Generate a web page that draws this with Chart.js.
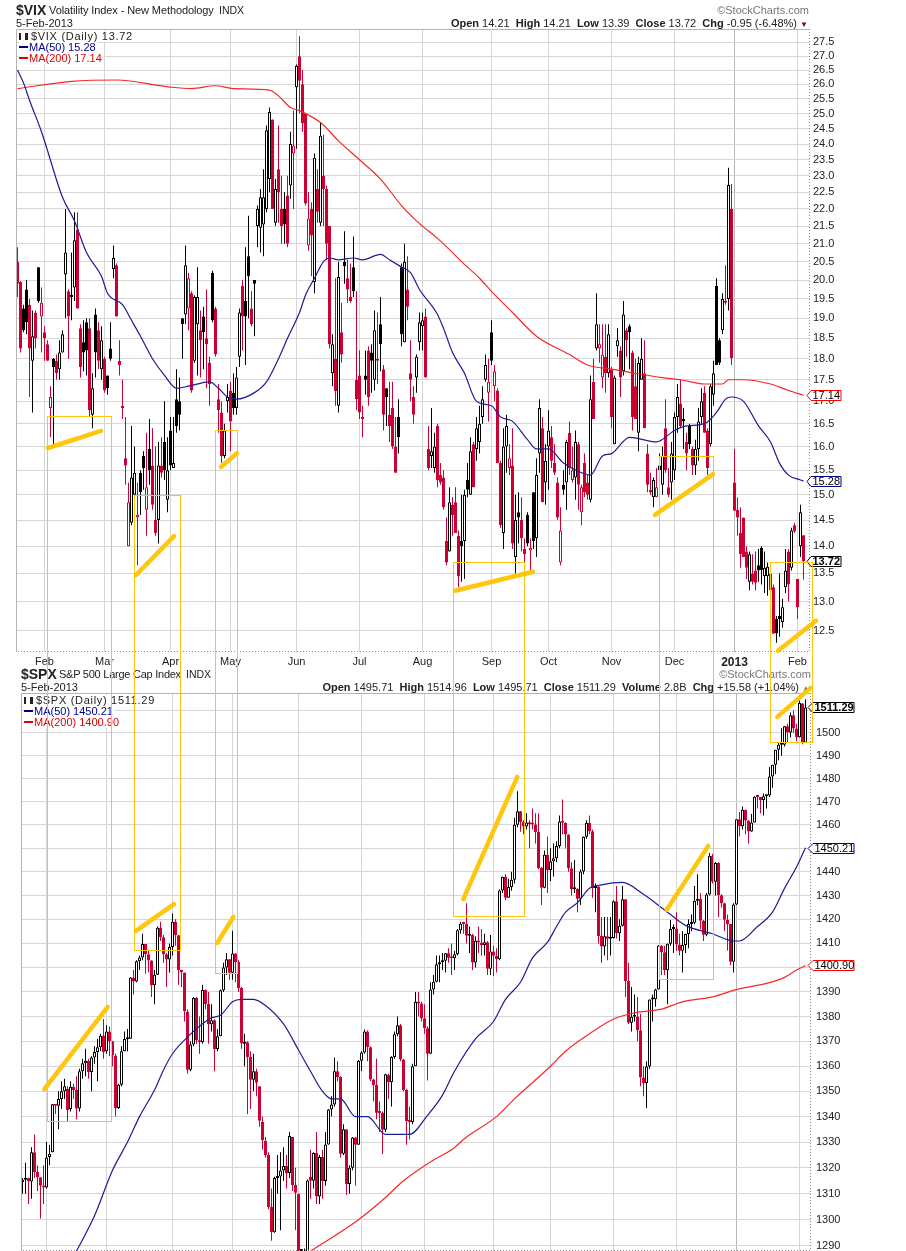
<!DOCTYPE html>
<html>
<head>
<meta charset="utf-8">
<title>$VIX and $SPX</title>
<script src="https://cdn.jsdelivr.net/npm/chart.js"></script>
<style>
  html, body { margin: 0; padding: 0; background: #fff; width: 906px; height: 1251px; overflow: hidden; }
  body { position: relative; font-family: "Liberation Sans", Arial, sans-serif; font-size: 11px; color: #222; }
  canvas { position: absolute; left: 0; display: block; }
  #vixChart { top: 0; }
  #spxChart { top: 670px; }
  #overlay { top: 0; z-index: 5; pointer-events: none; }
  .t { position: absolute; white-space: nowrap; line-height: 13px; z-index: 2; }
  .sym { font-weight: bold; font-size: 14px; line-height: 15px; color: #222; }
  .logo { color: #777; font-size: 11px; }
  .leg { background: #fff; line-height: 11px; height: 11px; padding-right: 2px; }
  .dn { color: #80002a; font-size: 8px; }
  .up { color: #2a8a2a; font-size: 8px; }
  .dash { display: inline-block; width: 9px; height: 2px; vertical-align: 3px; margin-right: 1px; }
  .glyph { display: inline-block; width: 9px; height: 7px; margin-right: 3px; vertical-align: 0; border-left: 2px solid #222; border-right: 3px solid #222; box-sizing: border-box; }
</style>
</head>
<body>
<canvas id="vixChart" width="906" height="670"></canvas>
<canvas id="spxChart" width="906" height="581"></canvas>

<div class="t sym" style="left:16px;top:3px">$VIX</div>
<div class="t" style="left:49px;top:4px;letter-spacing:-.1px">Volatility Index - New Methodology</div>
<div class="t" style="left:219px;top:4px;font-size:10.5px">INDX</div>
<div class="t" style="left:16px;top:17px">5-Feb-2013</div>
<div class="t logo" style="right:97px;top:4px">©StockCharts.com</div>
<div class="t" style="right:98px;top:17px"><b>Open</b> 14.21 &nbsp;<b>High</b> 14.21 &nbsp;<b>Low</b> 13.39 &nbsp;<b>Close</b> 13.72 &nbsp;<b>Chg</b> -0.95 (-6.48%) <span class="dn">▼</span></div>
<div class="t leg" style="left:19px;top:31px;letter-spacing:.7px"><span class="glyph"></span>$VIX (Daily) 13.72</div>
<div class="t leg" style="left:19px;top:42px;color:#00008b"><span class="dash" style="background:#00008b"></span>MA(50) 15.28</div>
<div class="t leg" style="left:19px;top:53px;color:#e00000"><span class="dash" style="background:#e00000"></span>MA(200) 17.14</div>

<div class="t sym" style="left:21px;top:667px">$SPX</div>
<div class="t" style="left:59px;top:668px;letter-spacing:-.25px">S&amp;P 500 Large Cap Index</div>
<div class="t" style="left:186px;top:668px;font-size:10.5px">INDX</div>
<div class="t" style="left:21px;top:681px">5-Feb-2013</div>
<div class="t logo" style="right:95px;top:668px">©StockCharts.com</div>
<div class="t" style="right:96px;top:681px"><b>Open</b> 1495.71 &nbsp;<b>High</b> 1514.96 &nbsp;<b>Low</b> 1495.71 &nbsp;<b>Close</b> 1511.29 &nbsp;<b>Volume</b> 2.8B &nbsp;<b>Chg</b> +15.58 (+1.04%) <span class="up">▲</span></div>
<div class="t leg" style="left:24px;top:695px;letter-spacing:.7px"><span class="glyph"></span>$SPX (Daily) 1511.29</div>
<div class="t leg" style="left:24px;top:706px;color:#00008b"><span class="dash" style="background:#00008b"></span>MA(50) 1450.21</div>
<div class="t leg" style="left:24px;top:717px;color:#e00000"><span class="dash" style="background:#e00000"></span>MA(200) 1400.90</div>

<canvas id="overlay" width="906" height="1251"></canvas>

<script>
// first trading day of each month, as index into the daily arrays
const monthIdx = [9, 29, 51, 71, 93, 114, 135, 158, 177, 198, 219, 239, 260];
const monthLabels = ['Feb', 'Mar', 'Apr', 'May', 'Jun', 'Jul', 'Aug', 'Sep', 'Oct', 'Nov', 'Dec', '2013', 'Feb'];

const vixTicks = [12.5, 13, 13.5, 14, 14.5, 15, 15.5, 16, 16.5, 17, 17.5, 18, 18.5, 19, 19.5, 20, 20.5, 21, 21.5, 22, 22.5, 23, 23.5, 24, 24.5, 25, 25.5, 26, 26.5, 27, 27.5];
const spxTicks = [1290, 1300, 1310, 1320, 1330, 1340, 1350, 1360, 1370, 1380, 1390, 1400, 1410, 1420, 1430, 1440, 1450, 1460, 1470, 1480, 1490, 1500, 1510];

const vixOpen = [
  20.5, 19.95, 19.25, 19.75, 19.35, 17.95, 19.15, 20.35, 19.05, 18.65,
  18.35, 16.85, 18.0, 17.95, 17.75, 18.15, 20.15, 19.7, 19.55, 19.8,
  21.4, 18.75, 18.4, 18.9, 18.75, 16.7, 19.1, 18.7, 17.75, 18.0,
  17.6, 18.25, 20.3, 20.4, 17.95, 16.9, 15.75, 14.0, 14.45, 15.0,
  14.55, 15.45, 15.8, 14.7, 15.95, 15.6, 14.5, 14.5, 15.6, 16.1,
  14.9, 16.35, 15.55, 17.05, 17.0, 19.0, 19.1, 19.25, 19.65, 17.95,
  18.85, 18.7, 19.05, 18.5, 17.9, 20.2, 19.25, 17.05, 16.75, 15.8,
  17.0, 17.25, 17.2, 16.85, 18.05, 19.85, 19.45, 20.65, 19.25, 20.0,
  21.5, 21.45, 21.55, 22.0, 22.9, 24.8, 21.6, 23.2, 22.0, 22.0,
  22.4, 22.7, 23.7, 25.9, 27.0, 26.0, 25.0, 20.95, 22.0, 19.95,
  22.6, 21.6, 23.0, 22.6, 21.5, 17.65, 18.0, 16.9, 18.65, 20.5,
  20.05, 19.55, 20.35, 17.5, 17.6, 16.65, 17.6, 18.2, 18.15, 17.5,
  17.97, 18.85, 17.75, 17.3, 16.7, 16.85, 16.0, 16.65, 20.35, 18.4,
  19.75, 17.65, 17.1, 17.55, 18.4, 18.8, 19.05, 15.95, 15.8, 15.55,
  16.45, 15.4, 15.35, 14.1, 13.9, 14.8, 14.85, 14.2, 14.1, 14.1,
  15.3, 15.0, 16.05, 15.95, 16.1, 16.65, 17.5, 17.2, 18.65, 17.35,
  17.25, 15.65, 14.25, 16.0, 15.55, 15.6, 13.8, 14.65, 14.5, 13.95,
  14.6, 13.92, 15.05, 14.15, 15.85, 16.4, 15.25, 16.0, 16.2, 15.65,
  15.25, 13.7, 15.2, 15.25, 16.3, 15.3, 15.35, 16.05, 14.65, 15.65,
  15.25, 14.9, 17.45, 18.25, 18.25, 17.55, 18.05, 17.65, 17.75, 16.05,
  18.3, 18.2, 17.7, 18.7, 18.8, 18.15, 17.35, 16.3, 17.5, 17.65,
  15.85, 15.1, 14.95, 14.95, 15.6, 15.2, 16.4, 15.15, 15.25, 15.5,
  16.65, 16.95, 16.6, 16.1, 16.45, 15.95, 15.6, 15.95, 16.65, 17.2,
  16.35, 16.05, 17.15, 19.85, 18.45, 18.7, 19.4, 19.5, 22.0, 15.25,
  14.7, 14.25, 14.55, 13.9, 13.35, 13.5, 13.55, 13.65, 13.97, 13.45,
  13.45, 13.5, 13.25, 12.7, 12.75, 12.65, 13.25, 13.9, 13.6, 14.4,
  13.4, 14.0, 14.21
];
const vixHigh = [
  20.9, 19.97, 19.35, 20.0, 19.5, 19.2, 19.2, 20.35, 19.8, 18.8,
  18.45, 17.35, 18.02, 18.1, 18.45, 18.7, 22.0, 19.75, 20.75, 21.9,
  21.9, 18.85, 18.95, 19.0, 19.0, 17.65, 19.25, 18.9, 18.8, 18.05,
  17.6, 18.9, 20.95, 20.45, 18.45, 17.5, 16.65, 15.25, 16.45, 16.0,
  15.25, 15.5, 15.9, 16.3, 16.6, 16.4, 16.0, 16.1, 16.2, 17.0,
  16.2, 16.65, 16.65, 17.75, 17.55, 19.0, 20.95, 20.2, 19.7, 19.6,
  20.35, 19.2, 19.3, 19.75, 18.05, 20.25, 19.3, 17.4, 17.0, 16.5,
  17.4, 17.45, 17.65, 17.8, 19.25, 20.0, 20.9, 21.8, 19.7, 20.0,
  22.1, 22.6, 23.2, 24.6, 25.2, 24.8, 22.9, 24.6, 23.0, 22.5,
  23.0, 24.4, 25.1, 26.7, 27.73, 26.5, 25.0, 22.5, 22.2, 23.7,
  23.2, 24.7, 24.3, 22.7, 21.5, 18.6, 20.05, 20.5, 19.4, 21.35,
  20.55, 20.45, 21.2, 19.7, 18.2, 16.9, 18.2, 18.3, 18.35, 19.2,
  19.15, 19.55, 17.85, 17.3, 17.45, 17.45, 16.65, 17.05, 20.45, 21.0,
  20.65, 18.45, 17.35, 18.1, 19.15, 19.15, 19.25, 16.45, 16.85, 16.3,
  16.5, 15.65, 15.5, 14.55, 15.15, 14.95, 15.15, 14.3, 15.0, 15.1,
  15.65, 16.2, 16.1, 16.65, 16.9, 17.35, 18.1, 18.0, 18.95, 17.85,
  17.3, 15.7, 16.4, 16.7, 16.05, 16.4, 15.0, 15.05, 14.95, 14.15,
  14.65, 14.15, 15.05, 15.75, 17.05, 16.65, 16.05, 16.8, 16.45, 16.05,
  15.35, 14.75, 15.5, 16.15, 16.55, 16.0, 16.35, 16.1, 15.2, 15.85,
  15.4, 17.6, 18.0, 19.65, 18.85, 18.85, 18.85, 18.85, 17.8, 17.6,
  18.75, 18.3, 19.45, 18.75, 18.85, 18.2, 18.0, 18.05, 18.5, 18.45,
  16.05, 15.45, 15.35, 15.55, 15.85, 16.0, 17.05, 15.55, 16.1, 16.75,
  17.4, 17.5, 16.85, 16.3, 16.5, 16.0, 16.15, 16.85, 17.3, 17.35,
  16.4, 17.4, 17.95, 20.05, 18.5, 19.65, 20.4, 23.25, 22.75, 15.95,
  14.95, 14.75, 14.55, 14.0, 13.9, 13.85, 13.9, 13.95, 14.0, 13.9,
  13.7, 13.6, 13.3, 12.75, 13.5, 13.05, 13.95, 13.95, 14.35, 14.45,
  13.4, 14.8, 14.21
];
const vixLow = [
  19.55, 18.15, 18.65, 18.6, 17.1, 16.75, 18.25, 19.4, 18.15, 17.95,
  17.95, 16.2, 16.0, 17.5, 17.5, 18.15, 19.0, 18.0, 18.95, 19.45,
  19.25, 17.55, 17.7, 17.6, 16.65, 16.4, 17.55, 17.75, 17.5, 17.2,
  17.15, 17.95, 20.05, 19.05, 17.6, 16.6, 15.2, 14.0, 14.4, 14.85,
  13.65, 14.6, 15.1, 14.2, 15.2, 14.7, 14.2, 14.05, 15.35, 15.3,
  14.65, 15.5, 15.55, 16.3, 16.35, 18.0, 18.85, 18.7, 17.2, 17.9,
  17.6, 17.55, 17.75, 17.3, 16.9, 18.9, 18.05, 16.3, 15.65, 15.75,
  16.75, 15.9, 16.7, 16.7, 17.8, 18.2, 17.85, 19.0, 18.8, 18.55,
  20.9, 20.75, 20.65, 21.9, 22.5, 22.0, 21.5, 21.6, 21.0, 21.0,
  20.9, 22.3, 22.0, 23.85, 25.0, 24.4, 22.1, 20.8, 20.1, 19.65,
  21.6, 21.5, 21.5, 20.55, 18.25, 17.35, 16.9, 16.75, 17.9, 19.9,
  19.4, 19.4, 19.55, 16.8, 16.6, 16.2, 17.15, 16.9, 17.2, 17.25,
  17.4, 17.7, 16.35, 16.45, 16.1, 15.95, 15.45, 15.85, 18.3, 18.4,
  18.95, 17.0, 16.5, 17.2, 18.2, 18.2, 17.55, 15.5, 15.55, 15.45,
  15.15, 15.2, 14.7, 13.65, 13.9, 14.2, 14.25, 13.25, 13.35, 13.4,
  14.95, 15.0, 15.15, 15.7, 15.85, 16.5, 17.45, 16.55, 17.85, 17.0,
  15.65, 14.35, 13.95, 15.45, 15.4, 13.95, 13.5, 14.05, 13.9, 13.5,
  14.0, 13.55, 13.95, 13.8, 15.45, 14.85, 14.8, 15.1, 15.55, 15.4,
  14.5, 13.65, 15.0, 14.7, 15.4, 15.25, 14.9, 14.7, 14.4, 14.95,
  14.9, 14.85, 16.6, 18.2, 17.9, 17.3, 17.2, 17.55, 16.4, 16.05,
  18.05, 17.1, 17.6, 18.05, 17.75, 16.35, 16.6, 15.9, 17.5, 16.4,
  15.05, 15.0, 14.75, 14.95, 15.4, 15.0, 15.45, 14.95, 14.9, 15.3,
  16.3, 16.4, 15.95, 15.5, 15.95, 15.4, 15.4, 15.7, 16.5, 16.3,
  15.4, 16.0, 16.9, 17.85, 17.85, 18.6, 19.35, 19.2, 17.85, 14.68,
  14.2, 13.6, 13.8, 13.4, 13.2, 13.3, 13.2, 13.35, 13.3, 13.15,
  13.1, 12.85, 12.45, 12.3, 12.4, 12.55, 13.15, 13.0, 13.55, 14.25,
  12.7, 13.8, 13.39
];
const vixClose = [
  19.9, 18.25, 18.7, 18.9, 18.25, 18.55, 18.5, 19.45, 19.4, 18.5,
  17.95, 17.1, 17.8, 17.65, 18.15, 18.6, 20.75, 19.05, 19.6, 21.1,
  19.25, 17.8, 18.15, 18.2, 16.8, 17.3, 18.15, 17.95, 18.45, 17.25,
  17.3, 18.0, 20.6, 19.05, 17.85, 16.85, 15.6, 14.85, 15.35, 15.45,
  14.6, 15.05, 15.55, 15.15, 15.5, 14.8, 14.25, 15.6, 15.45, 15.5,
  15.5, 15.6, 15.65, 16.45, 16.7, 18.85, 20.4, 20.05, 17.25, 19.55,
  19.55, 18.45, 18.65, 18.35, 17.4, 18.95, 18.1, 16.8, 15.8, 16.35,
  17.1, 16.55, 16.85, 17.55, 19.15, 19.05, 19.05, 20.1, 18.85, 19.9,
  22.0, 22.35, 22.35, 24.45, 25.05, 22.0, 22.6, 22.5, 21.5, 21.55,
  21.0, 24.0, 23.95, 26.65, 26.12, 24.68, 22.16, 21.72, 21.23, 23.56,
  21.92, 24.27, 22.6, 21.0, 18.35, 18.35, 17.24, 20.08, 18.1, 20.38,
  19.75, 19.45, 19.7, 17.05, 16.75, 16.6, 17.5, 17.1, 17.95, 18.7,
  17.95, 18.35, 16.7, 17.1, 16.45, 16.0, 15.45, 16.2, 18.6, 20.5,
  19.3, 17.5, 16.7, 18.05, 18.9, 18.95, 17.55, 15.55, 15.9, 16.0,
  15.3, 15.25, 14.75, 13.7, 14.85, 14.6, 14.25, 13.45, 14.0, 15.0,
  15.1, 15.9, 15.15, 16.4, 16.5, 17.05, 17.85, 17.45, 17.95, 17.7,
  15.65, 14.4, 16.0, 16.45, 15.75, 14.05, 14.5, 14.55, 14.15, 13.85,
  14.05, 13.97, 14.1, 15.4, 16.85, 14.85, 15.7, 16.35, 15.7, 15.45,
  14.55, 14.3, 15.1, 16.1, 15.55, 15.5, 16.1, 15.2, 15.15, 15.05,
  15.0, 17.05, 16.6, 18.85, 18.35, 18.1, 17.65, 18.6, 16.65, 17.55,
  18.45, 17.55, 19.1, 18.45, 18.65, 16.65, 16.6, 17.9, 18.0, 16.4,
  15.2, 15.05, 15.3, 15.15, 15.5, 15.8, 15.5, 15.0, 15.85, 16.65,
  17.1, 16.45, 16.55, 15.85, 16.05, 15.6, 15.95, 16.55, 17.0, 16.3,
  15.55, 17.35, 17.65, 17.85, 17.9, 19.5, 19.45, 22.72, 18.02, 14.68,
  14.55, 13.85, 13.8, 13.6, 13.85, 13.35, 13.33, 13.55, 13.56, 13.6,
  13.62, 13.2, 12.45, 12.46, 12.7, 12.9, 13.55, 13.3, 14.3, 14.28,
  12.9, 14.65, 13.72
];

const spxOpen = [
  1308, 1314.5, 1315.4, 1316, 1314.7, 1326, 1318.4, 1316.3, 1313, 1312.4,
  1324.2, 1326, 1344.9, 1344.3, 1347, 1350, 1351, 1343, 1351.8, 1350.5,
  1343.2, 1358, 1361.2, 1362.2, 1357.7, 1363.5, 1365.7, 1367.6, 1372.2, 1366,
  1374, 1370, 1364.3, 1343.4, 1352.6, 1366, 1370.8, 1371, 1395.9, 1394.3,
  1402.6, 1404.2, 1409.7, 1405.5, 1402.9, 1392.8, 1397.1, 1416.5, 1412.5, 1405.5,
  1403.3, 1408.5, 1419, 1413.4, 1399, 1398, 1382, 1358.6, 1368.7, 1387.6,
  1370.3, 1369.6, 1390.8, 1385.1, 1376.9, 1378.5, 1366.9, 1372, 1390.7, 1400,
  1403.4, 1397.9, 1405.8, 1402.3, 1391.6, 1369, 1369.6, 1363.7, 1354.6, 1358,
  1352, 1338, 1330.5, 1325, 1305, 1295.2, 1316, 1316.6, 1318.9, 1320.7,
  1318, 1332, 1313.3, 1310, 1278, 1278.2, 1285.5, 1316.5, 1315, 1325.7,
  1308.9, 1324.2, 1314.9, 1329.1, 1342.8, 1344.8, 1358, 1355.7, 1325.5, 1335,
  1313.7, 1320, 1331.85, 1329, 1362.2, 1365.5, 1374, 1367.6, 1354.7, 1352.5,
  1341.5, 1341.4, 1334.8, 1356.5, 1353.6, 1363.7, 1372.8, 1376.5, 1362.7, 1350.5,
  1338.3, 1337.9, 1360, 1386, 1385.3, 1379.3, 1375.3, 1365, 1391, 1394.2,
  1401.4, 1402.2, 1402.8, 1405.9, 1404.1, 1403.9, 1405.5, 1415.5, 1418.2, 1418.1,
  1413.2, 1413.5, 1402.1, 1411.1, 1410.4, 1409.3, 1410.5, 1399.5, 1406.6, 1404.9,
  1403.4, 1432.1, 1437.9, 1429.1, 1433.6, 1436.6, 1460, 1465.8, 1461.2, 1459.3,
  1461, 1460.3, 1460.2, 1456.9, 1441.6, 1433.3, 1447.2, 1440.7, 1444.5, 1445.75,
  1451, 1461.4, 1460.9, 1455.9, 1441.5, 1432.6, 1432.8, 1428.6, 1440.1, 1454.9,
  1460.9, 1457.3, 1433.2, 1433.8, 1413.1, 1408.75, 1413, 1411.9, 1412.2, 1427.6,
  1414.2, 1417.3, 1428.4, 1394.5, 1377.5, 1379.9, 1380, 1374.5, 1355.5, 1353.3,
  1359.9, 1386.9, 1387, 1391, 1409.15, 1406.3, 1398.9, 1409.9, 1415.95, 1416.2,
  1409.5, 1407, 1409.3, 1413.9, 1418.1, 1418.55, 1427.8, 1428.5, 1419.45, 1413.6,
  1430.4, 1446.8, 1435.8, 1443.7, 1430.15, 1426.7, 1419.8, 1418.1, 1402.4, 1426.2,
  1462.4, 1459.4, 1466.5, 1461.9, 1457.15, 1461, 1472.1, 1472, 1470.7, 1472.3,
  1472.6, 1480.9, 1486, 1492.6, 1494.8, 1494.8, 1502.96, 1500.2, 1507.8, 1501.96,
  1498.1, 1513, 1495.71
];
const spxHigh = [
  1315, 1316, 1322, 1316, 1328, 1333, 1321, 1316.3, 1321, 1330,
  1329, 1345, 1345, 1350, 1354, 1355, 1352, 1354, 1353, 1356,
  1359, 1363, 1367, 1363, 1364, 1368, 1371, 1373, 1379, 1376.5,
  1376, 1370, 1365, 1353, 1368, 1374, 1375, 1396, 1399, 1403,
  1405, 1414, 1409.7, 1407, 1403, 1399, 1417, 1419, 1413.5, 1406,
  1410, 1422.4, 1420, 1413.5, 1399, 1398, 1383, 1370, 1388, 1388,
  1380, 1393, 1391, 1390, 1385, 1379, 1375, 1391, 1402, 1406,
  1403.5, 1415.3, 1406, 1403, 1392, 1373, 1370, 1366, 1365, 1359,
  1352, 1340, 1332, 1326, 1312, 1316.5, 1325, 1326, 1328, 1325,
  1334, 1332, 1320, 1310, 1287, 1289, 1315.5, 1327, 1326, 1334,
  1325, 1327, 1334, 1343, 1348, 1363.5, 1362, 1356, 1337, 1335,
  1321, 1332, 1332, 1362.5, 1366, 1374.8, 1374.5, 1368, 1355, 1363,
  1346, 1342, 1357, 1357, 1364, 1374, 1380, 1377, 1363, 1351,
  1344, 1361, 1390, 1390, 1386, 1385, 1376, 1394, 1397, 1405,
  1405, 1406, 1406, 1408, 1410, 1407, 1416, 1419, 1419, 1426.7,
  1417, 1414, 1413, 1417, 1416, 1414, 1411, 1413.5, 1409, 1408,
  1432.5, 1438, 1439, 1437, 1440, 1463, 1474.5, 1466, 1462, 1465,
  1462, 1467, 1465, 1465, 1442, 1449, 1455, 1450, 1452, 1453,
  1464, 1470.9, 1461, 1456, 1444, 1445, 1433, 1441, 1455, 1462,
  1464, 1458, 1435, 1434, 1421, 1421, 1421, 1421, 1428, 1434,
  1420, 1434, 1428.4, 1402, 1392, 1389, 1388, 1381, 1360, 1362,
  1386.9, 1389, 1391.3, 1409.2, 1409.2, 1409, 1410, 1419.7, 1418, 1423,
  1414, 1415, 1414, 1420, 1422, 1434, 1439, 1431, 1419.7, 1431,
  1448, 1447.7, 1444, 1444, 1430.5, 1427, 1422, 1418.1, 1426.7, 1462.4,
  1465.5, 1467.9, 1466.5, 1462, 1464.7, 1472.3, 1473, 1472, 1473.5, 1473,
  1485, 1486, 1492.6, 1496, 1502, 1503, 1504, 1509, 1509.9, 1504,
  1514.4, 1513.2, 1514.96
];
const spxLow = [
  1307, 1310, 1310, 1306, 1308, 1316, 1311, 1300.5, 1306, 1312,
  1321, 1326, 1341, 1335, 1343, 1347, 1338, 1342, 1347, 1339,
  1342, 1355, 1356, 1355, 1350, 1361, 1354, 1366, 1363, 1365,
  1364, 1360, 1340, 1343, 1352, 1366, 1366, 1371, 1389, 1394,
  1399, 1403, 1397.5, 1398, 1388, 1385, 1397, 1411, 1402, 1392,
  1398, 1405, 1409, 1393, 1392, 1378, 1357, 1358, 1368, 1369,
  1365, 1369, 1383, 1369, 1374, 1358, 1366, 1372, 1390, 1397,
  1395, 1395, 1394, 1390, 1367, 1360, 1341, 1343, 1350, 1348,
  1336, 1327, 1324, 1304, 1292, 1295, 1310, 1296, 1315, 1312,
  1316, 1311, 1296, 1267, 1267, 1277, 1285, 1308, 1312, 1306,
  1306, 1308, 1313, 1329, 1340, 1344, 1354, 1324, 1325, 1309.5,
  1310, 1319, 1313, 1329, 1358, 1365, 1362, 1354, 1346, 1339,
  1334, 1325.4, 1334, 1347, 1344, 1363, 1372, 1362, 1350, 1329,
  1331, 1337, 1360, 1380, 1378, 1373, 1354.3, 1365, 1389, 1394,
  1394, 1399, 1398, 1402, 1397, 1399, 1405, 1414, 1414, 1410,
  1406, 1399, 1400, 1406, 1405, 1405, 1397, 1397, 1396.6, 1398,
  1403, 1431, 1428, 1429, 1432, 1435, 1459, 1457, 1456, 1458,
  1450, 1458, 1452, 1441, 1426, 1433, 1431, 1436, 1438, 1444,
  1450, 1456, 1450, 1440, 1430, 1431, 1423, 1426, 1439, 1454,
  1456, 1429, 1423, 1410, 1402, 1405, 1403, 1405, 1412, 1412,
  1411, 1417, 1388, 1377, 1374, 1378, 1370, 1352, 1348, 1343.35,
  1359, 1378, 1384, 1391, 1397, 1397, 1385, 1409, 1406, 1407,
  1405, 1398, 1406, 1408, 1415, 1418, 1426, 1416, 1411, 1413,
  1430, 1435, 1430, 1421, 1425, 1415, 1407, 1401, 1398, 1426,
  1455, 1458, 1456, 1452, 1457, 1461, 1467, 1465, 1464, 1467,
  1472, 1476, 1482, 1488, 1490, 1494, 1496, 1498, 1500, 1496.3,
  1498, 1495, 1495.71
];
const spxClose = [
  1314.5, 1315.4, 1316, 1314.7, 1326, 1318.4, 1316.3, 1313, 1312.4, 1324,
  1325.5, 1344.9, 1344.3, 1347, 1350, 1352, 1342.6, 1351.8, 1350.5, 1343.2,
  1358, 1361.2, 1362.2, 1357.7, 1363.5, 1365.7, 1367.6, 1372.2, 1365.7, 1374,
  1370, 1364.3, 1343.4, 1352.6, 1366, 1370.9, 1371, 1395.95, 1394.3, 1402.6,
  1404.2, 1409.75, 1405.5, 1402.9, 1392.8, 1397.1, 1416.5, 1412.5, 1405.5, 1403.3,
  1408.5, 1419, 1413.4, 1399, 1398.1, 1382.2, 1358.6, 1368.7, 1387.6, 1370.3,
  1369.6, 1390.8, 1385.1, 1376.9, 1378.5, 1366.9, 1372, 1390.7, 1400, 1403.4,
  1397.9, 1405.8, 1402.3, 1391.6, 1369.1, 1369.6, 1363.7, 1354.6, 1358, 1353.4,
  1338.35, 1330.7, 1325, 1304.9, 1295.2, 1316, 1316.6, 1318.9, 1320.7, 1317.8,
  1332.4, 1313.3, 1310.3, 1278, 1278.2, 1285.5, 1315.1, 1315, 1325.7, 1308.9,
  1324.2, 1314.9, 1329.1, 1342.8, 1344.8, 1358, 1355.7, 1325.5, 1335, 1313.7,
  1320, 1331.85, 1329, 1362.2, 1365.5, 1374, 1367.6, 1354.7, 1352.5, 1341.5,
  1341.4, 1334.8, 1356.8, 1353.6, 1363.7, 1372.8, 1376.5, 1362.7, 1350.5, 1338.3,
  1337.9, 1360, 1386, 1385.3, 1379.3, 1375.3, 1365, 1391, 1394.2, 1401.4,
  1402.2, 1402.8, 1405.9, 1404.1, 1403.9, 1405.5, 1415.5, 1418.2, 1418.1, 1413.2,
  1413.5, 1402.1, 1411.1, 1410.4, 1409.3, 1410.5, 1399.5, 1406.6, 1404.9, 1403.4,
  1432.1, 1437.9, 1429.1, 1433.6, 1436.6, 1460, 1465.8, 1461.2, 1459.3, 1461,
  1460.3, 1460.2, 1456.9, 1441.6, 1433.3, 1447.2, 1440.7, 1444.5, 1445.75, 1451,
  1461.4, 1460.9, 1455.9, 1441.5, 1432.6, 1432.8, 1428.6, 1440.1, 1454.9, 1460.9,
  1457.3, 1433.2, 1433.8, 1413.1, 1408.75, 1413, 1411.9, 1412.2, 1427.6, 1414.2,
  1417.3, 1428.4, 1394.5, 1377.5, 1379.9, 1380, 1374.5, 1355.5, 1353.3, 1359.9,
  1386.9, 1387, 1391, 1409.15, 1406.3, 1398.9, 1409.9, 1415.95, 1416.2, 1409.5,
  1407, 1409.3, 1413.9, 1418.1, 1418.55, 1427.8, 1428.5, 1419.45, 1413.6, 1430.4,
  1446.8, 1435.8, 1443.7, 1430.15, 1426.7, 1419.8, 1418.1, 1402.4, 1426.2, 1462.4,
  1459.4, 1466.5, 1461.9, 1457.15, 1461, 1472.1, 1472, 1470.7, 1472.3, 1472.6,
  1480.9, 1485.98, 1492.6, 1494.8, 1494.8, 1502.96, 1500.2, 1507.8, 1501.96, 1498.1,
  1513.2, 1495.7, 1511.29
];

// moving averages at these day indexes
const vixMa50Idx = [0, 2, 4, 8, 15, 19, 23, 28, 30, 35, 38, 41, 45, 49, 53, 57, 64, 67, 70, 73, 79, 83, 87, 90, 94, 96, 99, 102, 104, 107, 112, 115, 121, 124, 128, 131, 134, 140, 142, 145, 149, 153, 158, 161, 165, 170, 173, 177, 182, 188, 191, 195, 198, 204, 213, 219, 223, 229, 233, 236, 238, 242, 247, 251, 254, 257, 261, 262];
const vixMa50 = [26.5, 26.05, 25.45, 24.4, 22.35, 21.65, 20.75, 20.1, 19.65, 19.35, 18.95, 18.55, 18.0, 17.6, 17.3, 17.35, 17.45, 17.3, 17.1, 17.05, 17.2, 17.45, 18.0, 18.5, 19.15, 19.6, 20.05, 20.5, 20.6, 20.55, 20.6, 20.55, 20.7, 20.55, 20.35, 20.2, 19.75, 19.1, 18.75, 18.15, 17.65, 17.0, 16.9, 16.65, 16.55, 16.15, 15.95, 15.95, 15.65, 15.45, 15.4, 15.8, 15.85, 16.2, 16.1, 16.35, 16.45, 16.5, 16.75, 17.05, 17.1, 17.0, 16.45, 16.1, 15.65, 15.4, 15.3, 15.28];
const vixMa200Idx = [0, 18, 33, 51, 58, 66, 72, 84, 87, 91, 94, 101, 107, 114, 121, 128, 133, 135, 140, 145, 148, 154, 158, 165, 173, 184, 190, 198, 206, 215, 221, 229, 235, 237, 242, 251, 257, 262];
const vixMa200 = [25.85, 26.1, 26.15, 25.9, 25.85, 25.95, 25.85, 25.8, 25.6, 25.2, 25.1, 24.7, 24.1, 23.5, 22.9, 22.1, 21.65, 21.5, 21.15, 20.75, 20.5, 20.05, 19.7, 19.15, 18.55, 18.1, 17.85, 17.75, 17.65, 17.55, 17.5, 17.4, 17.4, 17.5, 17.5, 17.4, 17.25, 17.14];

const spxMa50Idx = [19, 25, 31, 36, 40, 45, 48, 51, 55, 58, 64, 67, 71, 74, 78, 82, 88, 93, 97, 101, 104, 107, 112, 116, 122, 130, 136, 141, 145, 152, 158, 162, 167, 171, 176, 179, 182, 186, 190, 194, 201, 208, 216, 222, 231, 238, 240, 246, 251, 255, 259, 262];
const spxMa50 = [1288, 1301.5, 1319, 1330, 1340, 1350.5, 1358.5, 1365, 1370.5, 1374, 1379.5, 1380.5, 1386, 1387, 1387, 1384.5, 1377, 1366.5, 1358, 1350, 1347, 1347, 1340, 1340, 1333, 1333, 1340.5, 1348.5, 1358, 1371, 1378, 1387, 1394, 1404, 1410.5, 1417, 1423, 1427, 1433, 1434.5, 1435.5, 1430.5, 1423, 1417.5, 1414, 1411, 1411, 1417, 1423, 1433, 1442, 1450.21];
const spxMa200Idx = [97, 113, 122, 128, 138, 144, 149, 159, 165, 177, 182, 190, 198, 205, 214, 221, 231, 239, 249, 255, 259, 262];
const spxMa200 = [1288, 1300, 1308.5, 1315, 1323, 1327, 1332, 1340, 1347, 1360, 1366, 1373, 1379, 1381.5, 1383, 1386, 1388, 1391, 1393.5, 1396, 1399, 1400.9];

// hand drawn annotations: boxes run from a VIX level down to an SPX level
const boxStart = [9.67, 39, 65.67, 145.33, 214, 251];
const boxEnd = [31.27, 54.33, 73.33, 168.67, 231.67, 265];
const boxVix = [16.67, 15.0, 16.37, 13.7, 15.81, 13.7];
const boxSpx = [1338.1, 1407.1, 1397.6, 1421.6, 1395.5, 1495.8];
// trend strokes [day, value, day, value]
const vixStrokes = [[10.17, 15.97, 27.83, 16.34], [39.5, 13.47, 52.17, 14.19], [67.83, 15.57, 73.17, 15.86], [145.83, 13.19, 171.83, 13.53], [212.5, 14.6, 231.83, 15.42], [253.5, 12.17, 266.17, 12.67]];
const spxStrokes = [[8.27, 1350.9, 29.4, 1383.9], [38.83, 1415.2, 51.5, 1426.4], [65.93, 1410.2, 71.27, 1421], [147.93, 1428.5, 165.93, 1480.7], [215.73, 1424, 229.6, 1451], [252.6, 1507.1, 263.73, 1520]];

const RED = '#cc0033';
const BLACK = '#000000';
const YELLOW = '#ffc60d';
const NAVY = '#1c1c96';
const MA_RED = '#f52828';
const GRID = '#d6d6d6';
const FONT = '"Liberation Sans", Arial, sans-serif';

function pairUp(xs, ys) {
  return xs.map((x, i) => ({ x: x, y: ys[i] }));
}

function candleDatasets(open, high, low, close) {
  const tone = i => (i > 0 && close[i] >= close[i - 1]) ? BLACK : RED;
  return [
    {
      type: 'bar', order: 2, grouped: false, barThickness: 1, borderWidth: 0, inflateAmount: 0,
      data: high.map((h, i) => ({ x: i, y: [low[i], h] })),
      backgroundColor: ctx => tone(ctx.dataIndex)
    },
    {
      type: 'bar', order: 1, grouped: false, barThickness: 3, borderWidth: 1, borderSkipped: false, minBarLength: 2, inflateAmount: 0,
      data: open.map((o, i) => ({ x: i, y: [o, close[i]] })),
      borderColor: ctx => tone(ctx.dataIndex),
      backgroundColor: ctx => close[ctx.dataIndex] > open[ctx.dataIndex] ? '#ffffff' : tone(ctx.dataIndex)
    }
  ];
}

function maDataset(idx, values, color) {
  return { type: 'line', order: 0, data: pairUp(idx, values), borderColor: color, borderWidth: 1.2, pointRadius: 0, cubicInterpolationMode: 'monotone' };
}

// frame of a panel and the value tags on the right
const panelExtras = {
  id: 'panelExtras',
  afterDraw(chart, args, opts) {
    const { ctx, chartArea: a, scales } = chart;
    ctx.save();
    ctx.lineWidth = 1;
    ctx.strokeStyle = '#b4b4b4';
    ctx.beginPath();
    ctx.moveTo(a.left + 0.5, a.bottom);
    ctx.lineTo(a.left + 0.5, a.top + 0.5);
    ctx.lineTo(a.right, a.top + 0.5);
    ctx.stroke();
    ctx.setLineDash([1, 2]);
    ctx.strokeStyle = '#8c8c8c';
    ctx.beginPath();
    ctx.moveTo(a.right - 0.5, a.top);
    ctx.lineTo(a.right - 0.5, a.bottom - 0.5);
    ctx.lineTo(a.left, a.bottom - 0.5);
    ctx.stroke();
    ctx.setLineDash([]);

    opts.tags.forEach(tag => {
      const y = Math.round(scales.y.getPixelForValue(tag.value)) + 0.5;
      const left = a.right + opts.tagGap;
      ctx.beginPath();
      ctx.moveTo(a.right - 3, y);
      ctx.lineTo(left, y - 5);
      ctx.lineTo(left + opts.tagWidth, y - 5);
      ctx.lineTo(left + opts.tagWidth, y + 5);
      ctx.lineTo(left, y + 5);
      ctx.closePath();
      ctx.fillStyle = '#fff';
      ctx.fill();
      ctx.strokeStyle = tag.color;
      ctx.stroke();
      ctx.fillStyle = '#000';
      ctx.font = (tag.bold ? 'bold ' : '') + '11px ' + FONT;
      ctx.textBaseline = 'middle';
      ctx.textAlign = 'left';
      ctx.fillText(tag.value.toFixed(2), left + 1.5, y + 0.5);
    });
    ctx.restore();
  }
};

function panelOptions(cfg) {
  return {
    responsive: false,
    animation: false,
    devicePixelRatio: 1,
    events: [],
    layout: { padding: { left: cfg.left, top: cfg.top, right: 0, bottom: 0 } },
    plugins: {
      legend: { display: false },
      tooltip: { enabled: false },
      panelExtras: { tags: cfg.tags, tagWidth: cfg.tagWidth, tagGap: cfg.tagGap }
    },
    scales: {
      x: {
        type: 'linear',
        offset: false,
        min: cfg.xMin,
        max: cfg.xMax,
        border: { display: false },
        grid: {
          offset: false,
          drawTicks: false,
          color: c => c.tick && monthLabels[monthIdx.indexOf(c.tick.value)] === '2013' ? '#b8b8b8' : GRID
        },
        afterBuildTicks: s => { s.ticks = monthIdx.map(v => ({ value: v })); },
        afterFit: s => { s.height = cfg.xHeight; s.paddingLeft = 0; s.paddingRight = 0; },
        ticks: {
          display: cfg.xLabels,
          autoSkip: false,
          maxRotation: 0,
          padding: 3,
          z: 1,
          color: '#222',
          callback: v => monthLabels[monthIdx.indexOf(v)],
          font: c => ({ family: FONT, size: c.tick && c.tick.label === '2013' ? 12 : 11, weight: c.tick && c.tick.label === '2013' ? 'bold' : 'normal' })
        }
      },
      y: {
        type: 'logarithmic',
        position: 'right',
        min: cfg.yMin,
        max: cfg.yMax,
        border: { display: false },
        grid: { drawTicks: false, color: GRID },
        afterBuildTicks: s => { s.ticks = cfg.yTicks.map(v => ({ value: v })); },
        afterFit: s => { s.width = 906 - cfg.right; s.paddingTop = 0; s.paddingBottom = 0; },
        ticks: {
          autoSkip: false,
          padding: cfg.yPad,
          color: '#222',
          font: { family: FONT, size: 11 },
          callback: v => cfg.yFormat(v)
        }
      }
    }
  };
}

const vixChart = new Chart(document.getElementById('vixChart'), {
  type: 'bar',
  data: {
    datasets: [
      ...candleDatasets(vixOpen, vixHigh, vixLow, vixClose),
      maDataset(vixMa50Idx, vixMa50, NAVY),
      maDataset(vixMa200Idx, vixMa200, MA_RED)
    ]
  },
  options: panelOptions({
    left: 16, top: 29, right: 810, xHeight: 18, xLabels: true,
    xMin: -0.5, xMax: 264.1667, yMin: 12.15, yMax: 28.0, yTicks: vixTicks, yPad: 3,
    yFormat: v => v.toFixed(1), tagWidth: 30, tagGap: 1,
    tags: [
      { value: vixMa200[vixMa200.length - 1], color: '#ff0000' },
      { value: vixMa50[vixMa50.length - 1], color: '#00008b' },
      { value: vixClose[vixClose.length - 1], color: '#000', bold: true }
    ]
  }),
  plugins: [panelExtras]
});

const spxChart = new Chart(document.getElementById('spxChart'), {
  type: 'bar',
  data: {
    datasets: [
      ...candleDatasets(spxOpen, spxHigh, spxLow, spxClose),
      maDataset(spxMa50Idx, spxMa50, NAVY),
      maDataset(spxMa200Idx, spxMa200, MA_RED)
    ]
  },
  options: panelOptions({
    left: 21, top: 23, right: 811, xHeight: 0, xLabels: false,
    xMin: 0.5, xMax: 263.8333, yMin: 1288.1, yMax: 1517.7, yTicks: spxTicks, yPad: 5,
    yFormat: v => String(v), tagWidth: 41, tagGap: 2,
    tags: [
      { value: spxMa200[spxMa200.length - 1], color: '#ff0000' },
      { value: spxMa50[spxMa50.length - 1], color: '#00008b' },
      { value: spxClose[spxClose.length - 1], color: '#000', bold: true }
    ]
  }),
  plugins: [panelExtras]
});

// annotations sit on top of both panels, positioned through the chart scales
const SPX_TOP = 670;
const vixX = v => vixChart.scales.x.getPixelForValue(v);
const vixY = v => vixChart.scales.y.getPixelForValue(v);
const spxX = v => spxChart.scales.x.getPixelForValue(v);
const spxY = v => spxChart.scales.y.getPixelForValue(v) + SPX_TOP;

const octx = document.getElementById('overlay').getContext('2d');
octx.strokeStyle = YELLOW;
octx.lineWidth = 1;
boxStart.forEach((start, i) => {
  const x0 = Math.round(vixX(start)) + 0.5;
  const x1 = Math.round(vixX(boxEnd[i])) + 0.5;
  const y0 = Math.round(vixY(boxVix[i])) + 0.5;
  const y1 = Math.round(spxY(boxSpx[i])) + 0.5;
  octx.strokeRect(x0, y0, x1 - x0, y1 - y0);
});
octx.lineWidth = 4.5;
octx.lineCap = 'round';
function stroke(x0, y0, x1, y1) {
  octx.beginPath();
  octx.moveTo(x0, y0);
  octx.lineTo(x1, y1);
  octx.stroke();
}
vixStrokes.forEach(s => stroke(vixX(s[0]), vixY(s[1]), vixX(s[2]), vixY(s[3])));
spxStrokes.forEach(s => stroke(spxX(s[0]), spxY(s[1]), spxX(s[2]), spxY(s[3])));
</script>
</body>
</html>
